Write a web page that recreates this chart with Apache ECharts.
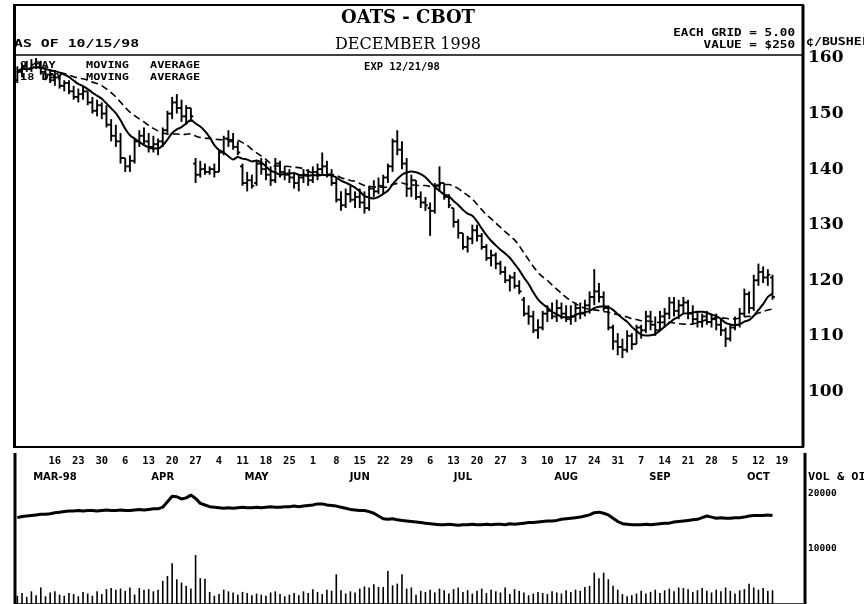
<!DOCTYPE html>
<html>
<head>
<meta charset="utf-8">
<script src="https://cdn.jsdelivr.net/npm/echarts@6/dist/echarts.min.js"></script>
<style>
  html, body { margin: 0; padding: 0; background: #fff; }
  #chart { width: 864px; height: 604px; }
</style>
</head>
<body>
<div id="chart"></div>
<script>
// trading days, Mar 4 1998 .. Oct 23 1998 (weekdays)
const dates = []
for (let d = new Date(Date.UTC(1998, 2, 4)); d <= new Date(Date.UTC(1998, 9, 23)); d.setUTCDate(d.getUTCDate() + 1)) {
  const wd = d.getUTCDay()
  if (wd !== 0 && wd !== 6) dates.push(d.toISOString().slice(0, 10))
}

const monthLabelDates = ['1998-03-16', '1998-04-16', '1998-05-14', '1998-06-15', '1998-07-15', '1998-08-14', '1998-09-11', '1998-10-12']
const monthLabelTexts = ['MAR-98', 'APR', 'MAY', 'JUN', 'JUL', 'AUG', 'SEP', 'OCT']

const opens = [
  156, 157.5, 158.5, 158, 159, 159, 157.5, 157, 156, 156.5,
  155, 155.5, 154, 153, 153.5, 154, 152, 150.5, 151.5, 150,
  148, 146, 145, 142, 140.5, 141.5, 145, 146, 145, 144,
  144.5, 145, 147, 150, 152, 151, 149.5, 151, 141, 139,
  140, 139.5, 140, 139.5, 143, 145.5, 145, 144, 140.5, 137.5,
  138, 137.5, 141, 140, 139, 138, 141, 139.5, 139, 138.5,
  137.5, 138.5, 139, 138, 139.5, 140, 140.5, 139, 137.5, 134.5,
  133.5, 135.5, 134.5, 135, 134, 133, 136.5, 136, 137, 138.5,
  140.5, 145, 143.5, 141, 136.5, 138, 135, 134, 133, 132.5,
  137, 137.5, 135, 133, 130.5, 128.5, 126, 127.5, 129, 128,
  126, 124, 124.5, 123, 121.5, 120, 120.5, 119, 116.5, 114,
  113.5, 111, 111.5, 114, 114.5, 113.5, 115, 114, 113, 113.5,
  115, 114, 115.5, 117, 118, 117, 115, 111.5, 109, 108,
  107.5, 110, 108.5, 111.5, 111, 113.5, 112, 111, 113.5, 114,
  116, 114.5, 115.5, 116, 114, 113, 112.5, 113.5, 112.5, 113,
  112, 111, 109.5, 111.5, 112, 114, 117.5, 115, 120, 121.5,
  120.5, 120.5,
]
const highs = [
  158.5, 159, 159.5, 159.8, 160, 159.5, 158.5, 158, 157.5, 157,
  156, 156, 155, 154.5, 155, 154, 153, 152.5, 152, 151.5,
  149, 148, 146.5, 142, 142.5, 145.5, 147, 147.5, 146.5, 146,
  145.5, 147.5, 150.5, 153, 153.5, 152.5, 151.5, 151, 142, 141.5,
  141, 140.5, 141, 143.5, 146, 147, 146.5, 145, 141, 139.5,
  139, 141.5, 142, 141.5, 140.5, 142, 141.5, 140.5, 140, 139.5,
  139, 140, 140, 140.5, 141, 143, 141.5, 140, 138.5, 136,
  136.5, 137, 136, 136.5, 136, 137, 138, 138.5, 139, 141,
  145.5, 147, 145, 142, 139, 138, 136, 135, 134, 137.5,
  140.5, 137.5, 135.5, 133, 131, 128.5, 128, 130, 130, 128.5,
  126.5, 125.5, 125, 123.5, 122.5, 121, 121.5, 120, 117, 115.5,
  114.5, 113, 114.5, 115.5, 116, 116.5, 116, 115.5, 115.5, 116,
  116, 116.5, 118, 122, 119.5, 118, 115.5, 112, 110.5, 109.5,
  111, 110.5, 112, 112, 114.5, 114.5, 113.5, 114.5, 115, 117,
  117, 116.5, 117, 116.5, 115.5, 114.5, 114, 114.5, 114, 114,
  113, 111.5, 112, 113.5, 115, 118.5, 118, 121, 123, 122.5,
  122, 121,
]
const lows = [
  155.5, 156.5, 157.5, 157.5, 158, 157, 156, 155.5, 155, 154.5,
  154, 153.5, 152.5, 152, 152.5, 151.5, 150, 149.5, 149, 147.5,
  145, 144, 141, 139.5, 139.5, 141, 144, 144.5, 143, 143,
  142.5, 144, 146.5, 149, 150, 148.5, 148, 148.5, 137.5, 138.5,
  139, 139, 138.5, 139.5, 142.5, 144, 143.5, 142.5, 137, 136,
  136.5, 137, 139, 138, 137, 137.5, 138.5, 138, 137.5, 136.5,
  136, 137.5, 137, 137.5, 138, 139, 138.5, 137, 134, 132.5,
  133, 134, 133, 133, 132, 132.5, 135, 135.5, 135.5, 137.5,
  139.5, 142.5, 140, 135, 135, 134.5, 133, 132.5, 128, 132,
  136, 134.5, 133, 129.5, 127.5, 125.5, 125, 126.5, 127, 125.5,
  123.5, 122.5, 122, 121, 119.5, 118, 118.5, 117.5, 113.5, 112,
  110.5, 109.5, 111, 112.5, 113, 112.5, 113, 112.5, 112, 112.5,
  113, 113.5, 114, 115.5, 116, 114.5, 111, 107.5, 106.5, 106,
  107, 107.5, 108.5, 109.5, 110.5, 111, 110, 111, 111.5, 113,
  113.5, 113, 114, 113, 112, 111.5, 111.5, 112, 111.5, 111,
  110, 108, 109, 111, 111.5, 113.5, 114, 114.5, 119, 119.5,
  119, 116.5,
]
const closes = [
  157.5, 158.5, 158, 158.8, 159, 157.5, 157, 156, 156.5, 155,
  155.5, 154, 153, 153.5, 154, 152, 150.5, 151.5, 150, 148,
  146, 145, 142, 140.5, 141.5, 145, 146, 145, 144, 144.5,
  145, 147, 150, 152, 151, 149.5, 151, 149.5, 139, 140,
  139.5, 140, 139.5, 143, 145.5, 145, 144, 143, 137.5, 138,
  137, 141, 140, 139, 138, 141, 139.5, 139, 138.5, 137.5,
  138.5, 139, 138, 139.5, 140, 140.5, 139, 137.5, 134.5, 133.5,
  135.5, 134.5, 135, 134, 133, 136.5, 136, 137, 138.5, 140.5,
  145, 143.5, 141, 136.5, 138, 135, 134, 133.5, 132.5, 137,
  137.5, 135, 133.5, 130.5, 128.5, 126, 127.5, 129, 128, 126,
  124, 124.5, 123, 121.5, 120, 120.5, 119, 118, 114, 113.5,
  111, 111.5, 114, 114.5, 113.5, 115, 114, 113, 113.5, 115,
  114, 115.5, 117, 118, 117, 115, 111.5, 109, 108, 107.5,
  110, 108.5, 111.5, 111, 113.5, 112, 111, 113.5, 114, 116,
  114.5, 115.5, 116, 114, 113, 112.5, 113.5, 112.5, 113, 112,
  111, 109.5, 111.5, 112, 114, 117.5, 115, 120, 121.5, 120.5,
  121, 117,
]
const volumes = [
  1500, 2000, 1300, 2300, 1600, 3000, 1400, 2100, 2300, 1700,
  1500, 2000, 1800, 1400, 2200, 1900, 1500, 2300, 1800, 2700,
  2900, 2600, 2800, 2400, 3000, 1700, 2900, 2600, 2700, 2300,
  2600, 4200, 5100, 7400, 4500, 3900, 3300, 2800, 8900, 4700,
  4600, 2200, 1500, 1800, 2600, 2300, 2100, 1700, 2200, 2000,
  1600, 1900, 1700, 1500, 2100, 2300, 1800, 1400, 1700, 2000,
  1600, 2300, 2000, 2700, 2200, 1800, 2600, 2400, 5400, 2500,
  1900, 2300, 2100, 2800, 3200, 3000, 3600, 3100, 3100, 6000,
  3400, 3700, 5400, 2800, 3000, 1700, 2400, 2200, 2600, 2100,
  2800, 2500, 1900, 2700, 3000, 2200, 2500, 1900, 2400, 2800,
  2000, 2600, 2300, 2100, 3000, 1800, 2700, 2400, 2100, 1600,
  1900, 2200, 2000, 1800, 2300, 2100, 1900, 2500, 2200, 2600,
  2400, 3100, 3300, 5700, 4700, 5700, 4500, 3300, 2600, 1800,
  1400, 1600, 1900, 2400, 1900, 2200, 2600, 2000, 2500, 2800,
  2300, 3000, 2900, 2700, 2200, 2500, 2900, 2400, 2100, 2600,
  2300, 3000, 2400, 1900, 2500, 2700, 3700, 3000, 2600, 2900,
  2400, 2500,
]
const openInterest = [
  15700, 15900, 16000, 16100, 16200, 16300, 16300, 16400, 16600, 16700,
  16800, 16900, 16900, 17000, 16900, 17000, 17000, 16900, 17000, 17100,
  17000, 17000, 17100, 17000, 17000, 17100, 17200, 17100, 17200, 17300,
  17300, 17600, 18600, 19600, 19500, 19100, 19300, 19800, 19200, 18300,
  18000, 17700, 17600, 17500, 17400, 17500, 17400, 17500, 17600, 17500,
  17500, 17600, 17500, 17600, 17700, 17600, 17600, 17700, 17700, 17800,
  17700, 17800, 17900, 18000, 18200, 18200, 18000, 17900, 17800, 17600,
  17400, 17200, 17100, 17000, 17000, 16800, 16500, 16000, 15500, 15400,
  15500, 15300, 15200, 15100, 15000, 14900, 14800, 14700, 14600, 14500,
  14400, 14400, 14500, 14400, 14300, 14400, 14400, 14500, 14400, 14400,
  14500, 14400, 14500, 14500, 14400, 14600, 14500, 14600, 14700, 14800,
  14800, 14900, 15000, 15100, 15100, 15200, 15400, 15500, 15600, 15700,
  15800, 16000, 16200, 16600, 16700, 16500, 16200, 15600, 15000, 14600,
  14500, 14400, 14400, 14400, 14500, 14400, 14500, 14600, 14700, 14700,
  14900, 15000, 15100, 15200, 15300, 15400, 15700, 16000, 15800, 15600,
  15700, 15600, 15600, 15700, 15700, 15800, 16000, 16100, 16100, 16100,
  16200, 16100,
]
const priceTicks = [100, 110, 120, 130, 140, 150, 160]

function movingAverage(values, n) {
  return values.map((v, i) => {
    const win = values.slice(Math.max(0, i - n + 1), i + 1)
    return +(win.reduce((a, b) => a + b, 0) / win.length).toFixed(2)
  })
}

const ohlc = closes.map((c, i) => [i, opens[i], highs[i], lows[i], c])
const ma9 = movingAverage(closes, 9)
const ma18 = movingAverage(closes, 18)

const monoBold = '"DejaVu Sans Mono"'
const ink = '#000'

function renderBar(params, api) {
  const i = api.value(0)
  const pO = api.coord([i, api.value(1)])
  const pH = api.coord([i, api.value(2)])
  const pL = api.coord([i, api.value(3)])
  const pC = api.coord([i, api.value(4)])
  const t = 2.4
  const style = { stroke: ink, lineWidth: 1.9 }
  return {
    type: 'group',
    children: [
      { type: 'line', shape: { x1: pH[0], y1: pH[1], x2: pL[0], y2: pL[1] }, style },
      { type: 'line', shape: { x1: pO[0] - t, y1: pO[1], x2: pO[0], y2: pO[1] }, style },
      { type: 'line', shape: { x1: pC[0], y1: pC[1], x2: pC[0] + t, y2: pC[1] }, style },
    ],
  }
}

function label(text, x, y, size, opts = {}) {
  return {
    type: 'text',
    x,
    y,
    scaleX: opts.scaleX || 1,
    z: 20,
    style: {
      text,
      font: `${opts.weight || 'bold'} ${size}px ${opts.family || monoBold}`,
      fill: ink,
      textAlign: opts.align || 'left',
      align: opts.align || 'left',
      textVerticalAlign: 'middle',
      verticalAlign: 'middle',
    },
  }
}

function vline(x, y1, y2, w) {
  return { type: 'line', z: 20, shape: { x1: x, y1, x2: x, y2 }, style: { stroke: ink, lineWidth: w } }
}
function hline(y, x1, x2, w) {
  return { type: 'line', z: 20, shape: { x1, y1: y, x2, y2: y }, style: { stroke: ink, lineWidth: w } }
}

const chart = echarts.init(document.getElementById('chart'))

const option = {
  animation: false,
  backgroundColor: '#fff',
  grid: [
    { left: 15, right: 61, top: 58, bottom: 157 },
    { left: 15, right: 61, top: 494, bottom: -5 },
  ],
  xAxis: [
    {
      gridIndex: 0,
      type: 'category',
      data: dates,
      position: 'bottom',
      axisLine: { show: false },
      axisTick: { show: false },
      axisLabel: {
        margin: 25,
        interval: (idx, val) => monthLabelDates.includes(val),
        formatter: val => monthLabelTexts[monthLabelDates.indexOf(val)] || '',
        fontFamily: 'DejaVu Sans',
        fontWeight: 'bold',
        fontSize: 10,
        color: ink,
      },
    },
    {
      gridIndex: 1,
      type: 'category',
      data: dates,
      position: 'top',
      axisLine: { show: true, lineStyle: { color: ink, width: 1.5 } },
      axisTick: { show: false },
      axisLabel: {
        margin: 27,
        interval: (idx, val) => new Date(val + 'T00:00:00Z').getUTCDay() === 1 && val >= '1998-03-16',
        formatter: val => String(+val.slice(8)),
        fontFamily: 'DejaVu Sans Mono',
        fontWeight: 'bold',
        fontSize: 10.5,
        color: ink,
      },
    },
  ],
  yAxis: [
    {
      gridIndex: 0,
      type: 'value',
      position: 'right',
      min: 90,
      max: 160,
      interval: 10,
      axisLine: { show: false },
      axisTick: { show: false },
      splitLine: { show: false },
      axisLabel: {
        margin: 5,
        formatter: v => (priceTicks.includes(v) ? String(v) : ''),
        fontFamily: 'DejaVu Serif',
        fontWeight: 'bold',
        fontSize: 17,
        color: ink,
      },
    },
    {
      gridIndex: 1,
      type: 'value',
      position: 'right',
      min: 0,
      max: 20000,
      interval: 10000,
      axisLine: { show: false },
      axisTick: { show: false },
      splitLine: { show: false },
      axisLabel: {
        margin: 5,
        formatter: v => (v === 0 ? '' : String(v)),
        fontFamily: 'DejaVu Sans Mono',
        fontWeight: 'bold',
        fontSize: 9.5,
        color: ink,
      },
    },
  ],
  series: [
    {
      name: 'OHLC',
      type: 'custom',
      xAxisIndex: 0,
      yAxisIndex: 0,
      renderItem: renderBar,
      encode: { x: 0, y: [1, 2, 3, 4] },
      data: ohlc,
    },
    {
      name: '9 DAY',
      type: 'line',
      xAxisIndex: 0,
      yAxisIndex: 0,
      data: ma9,
      showSymbol: false,
      smooth: 0.3,
      lineStyle: { color: ink, width: 2 },
    },
    {
      name: '18 DAY',
      type: 'line',
      xAxisIndex: 0,
      yAxisIndex: 0,
      data: ma18,
      showSymbol: false,
      smooth: 0.3,
      lineStyle: { color: ink, width: 1.6, type: [7, 4] },
    },
    {
      name: 'VOL',
      type: 'bar',
      xAxisIndex: 1,
      yAxisIndex: 1,
      data: volumes,
      barWidth: 1.6,
      itemStyle: { color: ink },
    },
    {
      name: 'OI',
      type: 'line',
      xAxisIndex: 1,
      yAxisIndex: 1,
      data: openInterest,
      showSymbol: false,
      lineStyle: { color: ink, width: 3 },
    },
  ],
  graphic: [
    { type: 'rect', z: 20, shape: { x: 14, y: 5, width: 789, height: 442 }, style: { fill: 'none', stroke: ink, lineWidth: 2 } },
    vline(14.5, 5, 447, 3),
    vline(803, 5, 447, 3),
    hline(55, 14, 803, 1.5),
    vline(15, 453, 604, 3),
    vline(805, 453, 604, 3),

    label('OATS - CBOT', 408, 18, 18, { family: '"DejaVu Serif"', align: 'center' }),
    label('DECEMBER 1998', 408, 45, 16, { family: '"DejaVu Serif"', weight: 'normal', align: 'center' }),
    label('AS OF 10/15/98', 14, 44, 11, { scaleX: 1.35 }),
    label('EXP 12/21/98', 402, 67, 10.5, { align: 'center' }),
    label('EACH GRID = 5.00', 795, 33, 11, { align: 'right', scaleX: 1.15 }),
    label('VALUE = $250', 795, 45, 11, { align: 'right', scaleX: 1.15 }),
    label('¢/BUSHEL', 806, 42, 11, { scaleX: 1.2 }),
    label('9 DAY', 20, 66, 9.5, { scaleX: 1.25 }),
    label('MOVING', 86, 66, 9.5, { scaleX: 1.25 }),
    label('AVERAGE', 150, 66, 9.5, { scaleX: 1.25 }),
    label('18 DAY', 20, 78, 9.5, { scaleX: 1.25 }),
    label('MOVING', 86, 78, 9.5, { scaleX: 1.25 }),
    label('AVERAGE', 150, 78, 9.5, { scaleX: 1.25 }),
    label('VOL & OI', 808, 477, 10, { scaleX: 1.2 }),
  ],
}

chart.setOption(option)
</script>
</body>
</html>
